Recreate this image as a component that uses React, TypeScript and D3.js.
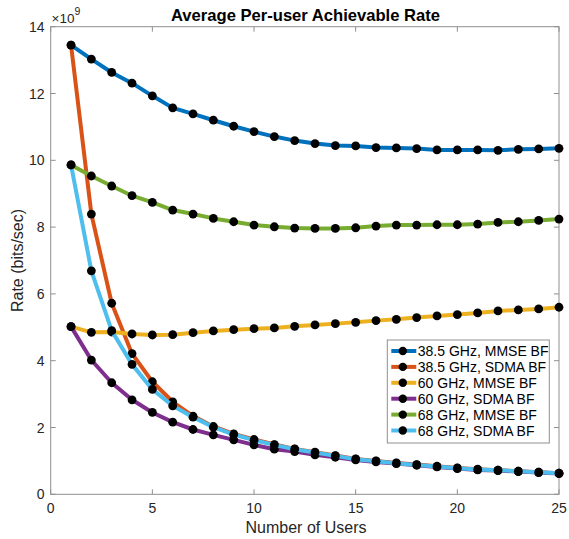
import * as d3 from "d3";

// values in units of 1e9 bits/sec
const users = [1, 2, 3, 4, 5, 6, 7, 8, 9, 10, 11, 12, 13, 14, 15, 16, 17, 18, 19, 20, 21, 22, 23, 24, 25];
const mmse385 = [13.45, 13.03, 12.63, 12.31, 11.93, 11.57, 11.39, 11.2, 11.02, 10.86, 10.71, 10.59, 10.5, 10.44, 10.43, 10.38, 10.37, 10.35, 10.31, 10.31, 10.31, 10.3, 10.33, 10.34, 10.36];
const sdma385 = [13.45, 8.39, 5.72, 4.21, 3.37, 2.77, 2.34, 2.03, 1.81, 1.64, 1.49, 1.36, 1.26, 1.16, 1.06, 1.0, 0.94, 0.89, 0.84, 0.79, 0.75, 0.72, 0.69, 0.66, 0.63];
const mmse60 = [5.02, 4.85, 4.86, 4.8, 4.77, 4.78, 4.84, 4.89, 4.93, 4.96, 4.98, 5.03, 5.07, 5.11, 5.15, 5.2, 5.24, 5.29, 5.34, 5.38, 5.43, 5.49, 5.52, 5.55, 5.6];
const sdma60 = [5.02, 4.02, 3.34, 2.83, 2.45, 2.16, 1.94, 1.78, 1.63, 1.48, 1.35, 1.28, 1.18, 1.11, 1.03, 0.97, 0.92, 0.87, 0.82, 0.77, 0.73, 0.71, 0.68, 0.65, 0.62];
const mmse68 = [9.86, 9.53, 9.23, 8.94, 8.74, 8.51, 8.39, 8.26, 8.16, 8.06, 8.01, 7.97, 7.96, 7.96, 7.98, 8.03, 8.06, 8.06, 8.07, 8.07, 8.09, 8.14, 8.16, 8.2, 8.24];
const sdma68 = [9.86, 6.69, 4.9, 3.89, 3.14, 2.65, 2.31, 2.01, 1.79, 1.62, 1.48, 1.35, 1.25, 1.15, 1.05, 0.99, 0.93, 0.88, 0.83, 0.78, 0.74, 0.72, 0.69, 0.66, 0.63];

const seriesNames = [
  "38.5 GHz, MMSE BF",
  "38.5 GHz, SDMA BF",
  "60 GHz, MMSE BF",
  "60 GHz, SDMA BF",
  "68 GHz, MMSE BF",
  "68 GHz, SDMA BF",
];
const seriesValues = [mmse385, sdma385, mmse60, sdma60, mmse68, sdma68];
const seriesColors = ["#0072BD", "#D95319", "#EDB120", "#7E2F8E", "#77AC30", "#4DBEEE"];

const xTicks = [0, 5, 10, 15, 20, 25];
const yTicks = [0, 2, 4, 6, 8, 10, 12, 14];

const W = 569;
const H = 539;
const left = 50.7;
const right = 559;
const top = 26.7;
const bottom = 494.3;
const font = "'Liberation Sans', Arial, Helvetica, sans-serif";
const axisColor = "#8f8f8f";
const textColor = "#262626";

export default function App() {
  const x = d3.scaleLinear().domain([0, 25]).range([left, right]);
  const y = d3.scaleLinear().domain([0, 14]).range([bottom, top]);
  const line = d3
    .line<number>()
    .x((_, i) => x(users[i]))
    .y((d) => y(d));

  const legX = 387.3;
  const legY = 340;
  const legW = 162;
  const legH = 103;
  const rowH = 15.9;

  return (
    <svg
      width={W}
      height={H}
      viewBox={`0 0 ${W} ${H}`}
      style={{ position: "absolute", left: 0, top: 0, background: "#fff" }}
      fontFamily={font}
    >
      {/* frame */}
      <rect x={left} y={top} width={right - left} height={bottom - top} fill="#fff" stroke={axisColor} strokeWidth={1} />
      {xTicks.map((t) => (
        <g key={"x" + t}>
          <line x1={x(t)} x2={x(t)} y1={bottom} y2={bottom - 5} stroke={axisColor} />
          <line x1={x(t)} x2={x(t)} y1={top} y2={top + 5} stroke={axisColor} />
          <text x={x(t)} y={513.3} textAnchor="middle" fontSize={14} fill={textColor}>
            {t}
          </text>
        </g>
      ))}
      {yTicks.map((t) => (
        <g key={"y" + t}>
          <line x1={left} x2={left + 5} y1={y(t)} y2={y(t)} stroke={axisColor} />
          <line x1={right} x2={right - 5} y1={y(t)} y2={y(t)} stroke={axisColor} />
          <text x={44.5} y={y(t) + 5} textAnchor="end" fontSize={14} fill={textColor}>
            {t}
          </text>
        </g>
      ))}

      {/* series */}
      {seriesValues.map((vals, s) => (
        <g key={"s" + s}>
          <path d={line(vals) ?? ""} fill="none" stroke={seriesColors[s]} strokeWidth={4} strokeLinejoin="round" />
          {vals.map((v, i) => (
            <circle key={i} cx={x(users[i])} cy={y(v)} r={4.4} fill="#000" />
          ))}
        </g>
      ))}

      {/* exponent */}
      <text x={51.5} y={22.5} fontSize={13.5} fill={textColor}>
        ×10
        <tspan fontSize={10.5} dy={-7.5}>9</tspan>
      </text>

      {/* title and labels */}
      <text x={305.5} y={20.6} textAnchor="middle" fontSize={16.6} fontWeight="bold" fill="#000">
        Average Per-user Achievable Rate
      </text>
      <text x={306} y={533.3} textAnchor="middle" fontSize={16} fill={textColor}>
        Number of Users
      </text>
      <text
        transform={`translate(22.8, ${(top + bottom) / 2}) rotate(-90)`}
        textAnchor="middle"
        fontSize={16}
        fill={textColor}
      >
        Rate (bits/sec)
      </text>

      {/* legend */}
      <rect x={legX} y={legY} width={legW} height={legH} fill="#fff" stroke={axisColor} strokeWidth={1} />
      {seriesNames.map((name, i) => {
        const cy = legY + 11 + i * rowH;
        return (
          <g key={name}>
            <line x1={legX + 4} x2={legX + 29} y1={cy} y2={cy} stroke={seriesColors[i]} strokeWidth={4} />
            <circle cx={legX + 15.5} cy={cy} r={4.2} fill="#000" />
            <text x={legX + 30.5} y={cy + 5} fontSize={14} fill="#000">
              {name}
            </text>
          </g>
        );
      })}
    </svg>
  );
}
